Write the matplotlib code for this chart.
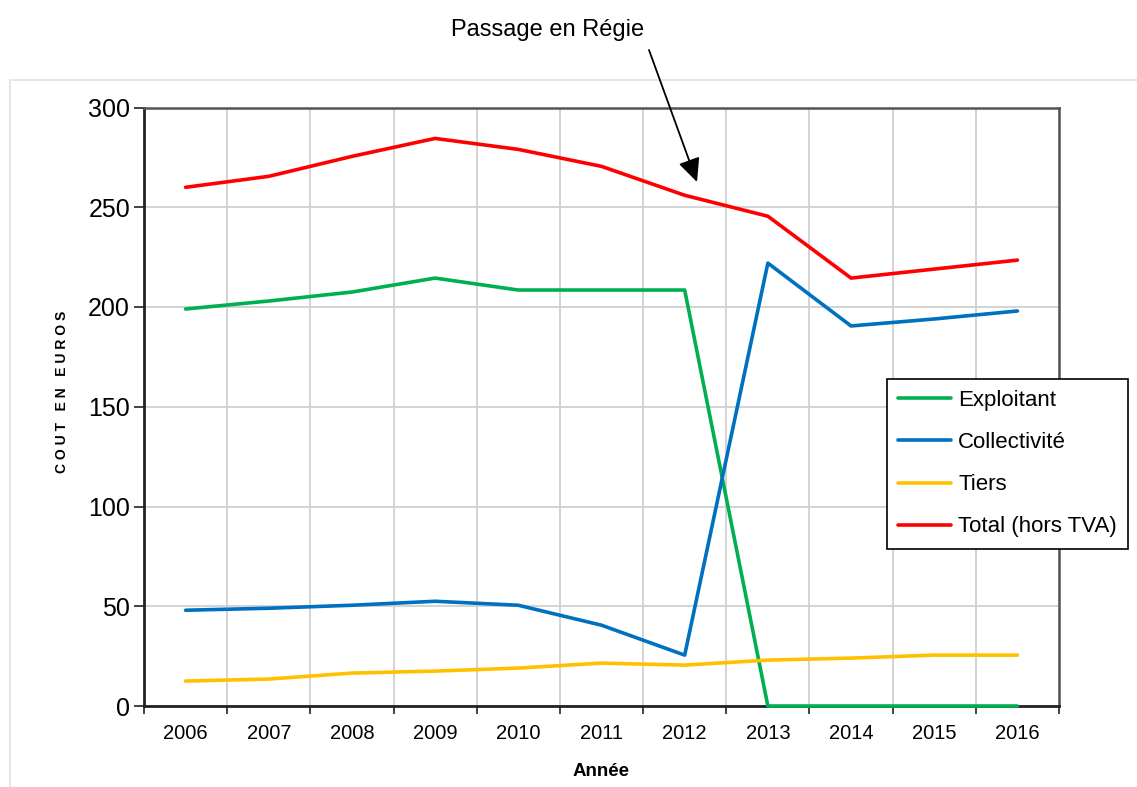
import numpy as np
import matplotlib.pyplot as plt
from matplotlib.patches import Rectangle, FancyArrowPatch

plt.rcParams['font.family'] = ['Liberation Sans', 'DejaVu Sans']

# data
years = ['2006', '2007', '2008', '2009', '2010', '2011',
         '2012', '2013', '2014', '2015', '2016']
exploitant = [199, 203, 207.5, 214.5, 208.5, 208.5, 208.5, 0, 0, 0, 0]
collectivite = [48, 49, 50.5, 52.5, 50.5, 40.5, 25.5, 222, 190.5, 194, 198]
tiers = [12.5, 13.5, 16.5, 17.5, 19, 21.5, 20.5, 23, 24, 25.5, 25.5]
total = [260, 265.5, 275.5, 284.5, 279, 270.5, 256, 245.5, 214.5, 219, 223.5]

series = [
    ('Exploitant', exploitant, '#00B050'),
    ('Collectivité', collectivite, '#0070C0'),
    ('Tiers', tiers, '#FFC000'),
    ('Total (hors TVA)', total, '#FF0000'),
]

W, H = 1137, 787
fig = plt.figure(figsize=(W / 100, H / 100), dpi=100)

# light gray outer chart frame
fig.patches.append(Rectangle((10 / W, -0.1), 1.2, 1 - 80 / H + 0.1,
                             transform=fig.transFigure, fill=False,
                             edgecolor='#e6e6e6', linewidth=1.5))

ax = fig.add_axes([144 / W, 1 - 706 / H, (1059 - 144) / W, (706 - 107.5) / H])

x = np.arange(len(years))
for name, vals, col in series:
    ax.plot(x, vals, color=col, linewidth=2.6, label=name, zorder=3,
            clip_on=False, solid_capstyle='round')

ax.set_xlim(-0.5, len(years) - 0.5)
ax.set_ylim(0, 300)

# category boundaries carry ticks and grid, labels sit in the middle
ax.set_xticks(np.arange(-0.5, len(years), 1.0))
ax.set_xticklabels([])
ax.set_xticks(x, minor=True)
ax.set_xticklabels(years, minor=True, fontsize=14.5)
ax.tick_params(axis='x', which='major', direction='out', length=6, width=1.2, color='#222222')
ax.tick_params(axis='x', which='minor', length=0, pad=13)
ax.set_yticks(np.arange(0, 301, 50))
ax.tick_params(axis='y', direction='out', length=7, width=1.2, color='#222222',
               labelsize=18, pad=3)

ax.grid(True, which='major', color='#d0d0d0', linewidth=1.3, zorder=0)
ax.set_axisbelow(True)

for side in ['left', 'bottom']:
    ax.spines[side].set_color('#222222')
    ax.spines[side].set_linewidth(2)
for side in ['top', 'right']:
    ax.spines[side].set_color('#555555')
    ax.spines[side].set_linewidth(1.8)

ax.set_xlabel('Année', fontsize=13.5, fontweight='bold')
ax.xaxis.set_label_coords((601 - 144) / (1059 - 144), (706 - 763) / (706 - 107.5))
ax.set_ylabel('C O U T   E N   E U R O S', fontsize=10, fontweight='bold')
ax.yaxis.set_label_coords((69 - 144) / (1059 - 144), (706 - 392) / (706 - 107.5))

leg = fig.legend(loc='upper left', bbox_to_anchor=(887 / W, 1 - 379 / H),
                 bbox_transform=fig.transFigure, fontsize=16, frameon=True,
                 fancybox=False, edgecolor='black', framealpha=1,
                 handlelength=2.4, handletextpad=0.3, labelspacing=0.95,
                 borderpad=0.5, borderaxespad=0)
leg.get_frame().set_linewidth(1.2)

# annotation for the switch to public management
fig.text(548 / W, 1 - 30 / H, 'Passage en Régie', ha='center', va='center', fontsize=17)
fig.patches.append(FancyArrowPatch(
    (649 / W, 1 - 50 / H), (697 / W, 1 - 182 / H), transform=fig.transFigure,
    arrowstyle='-|>,head_length=0.6,head_width=0.28', mutation_scale=24,
    color='black', lw=1.3, shrinkA=0, shrinkB=0))

fig.savefig('out.png', dpi=100)
